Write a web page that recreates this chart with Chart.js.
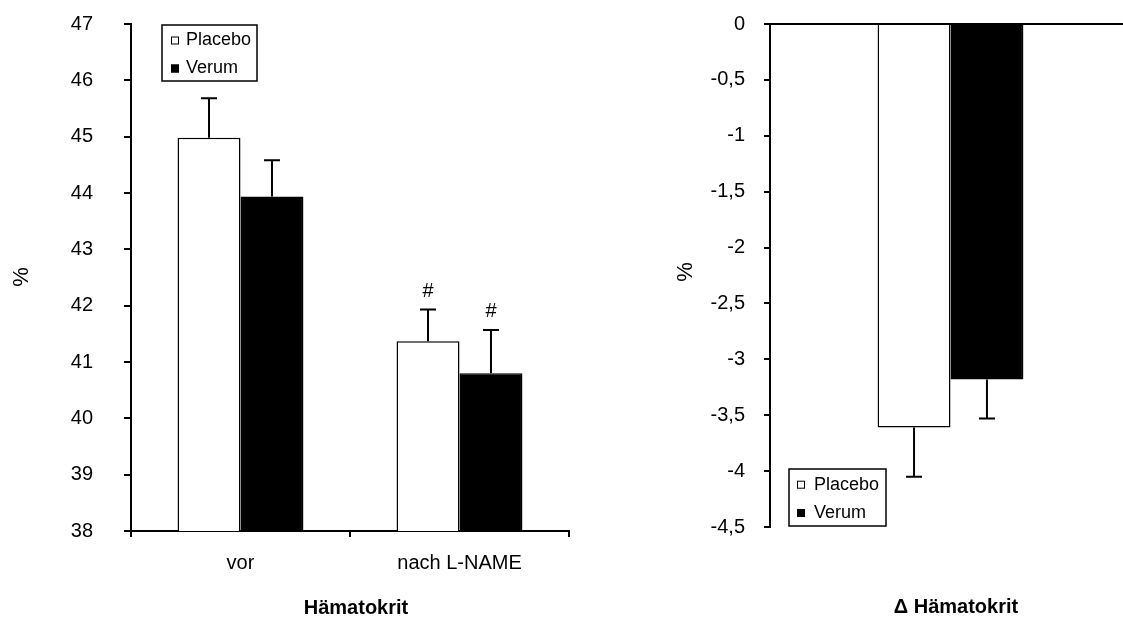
<!DOCTYPE html>
<html><head><meta charset="utf-8">
<script src="https://cdn.jsdelivr.net/npm/chart.js@4"></script>
<style>
html,body{margin:0;padding:0;background:#fff;overflow:hidden;width:1123px;height:618px;}
#c1{position:absolute;left:0;top:0;}
#c2{position:absolute;left:660px;top:0;}
</style></head><body>
<canvas id="c1" width="600" height="618"></canvas>
<canvas id="c2" width="480" height="618"></canvas>
<script>
// ---- data ----
const seriesNames = ['Placebo', 'Verum'];
const leftCategories = ['vor', 'nach L-NAME'];
const leftPlacebo = [44.98, 41.37];
const leftVerum = [43.94, 40.80];
const leftPlaceboErr = [0.70, 0.56];
const leftVerumErr = [0.64, 0.77];
const leftPlaceboMarks = ['', '#'];
const leftVerumMarks = ['', '#'];
const leftYTicks = [38, 39, 40, 41, 42, 43, 44, 45, 46, 47];

const rightCategories = [''];
const rightPlacebo = [-3.61];
const rightVerum = [-3.18];
const rightPlaceboErr = [0.44];
const rightVerumErr = [0.35];
const rightYTicks = [-4.5, -4, -3.5, -3, -2.5, -2, -1.5, -1, -0.5, 0];

const leftTitle = 'Hämatokrit';
const rightTitle = '\u0394 Hämatokrit';
const yTitle = '%';

// ---- styling ----
const FONT = '"Liberation Sans", Arial, sans-serif';
Chart.defaults.color = '#000';
Chart.defaults.font.family = FONT;
Chart.defaults.animation = false;

const fmt = v => String(v).replace('.', ',');

const errorBars = {
  id: 'errorBars',
  afterDatasetsDraw(chart) {
    const ctx = chart.ctx, y = chart.scales.y;
    chart.data.datasets.forEach((ds, di) => {
      const meta = chart.getDatasetMeta(di);
      meta.data.forEach((bar, i) => {
        const v = ds.data[i], e = ds.errors[i];
        const end = v >= 0 ? v + e : v - e;
        const pv = y.getPixelForValue(v), pe = y.getPixelForValue(end);
        ctx.save();
        ctx.strokeStyle = '#000'; ctx.lineWidth = 2;
        ctx.beginPath();
        ctx.moveTo(bar.x, pv); ctx.lineTo(bar.x, pe);
        ctx.moveTo(bar.x - 8, pe); ctx.lineTo(bar.x + 8, pe);
        ctx.stroke();
        if (ds.marks && ds.marks[i]) {
          ctx.font = '20px ' + FONT; ctx.fillStyle = '#000';
          ctx.textAlign = 'center'; ctx.textBaseline = 'middle';
          ctx.fillText(ds.marks[i], bar.x, pe - 18);
        }
        ctx.restore();
      });
    });
  }
};

const boxLegend = {
  id: 'boxLegend',
  afterDraw(chart, args, o) {
    const ca = chart.chartArea, ctx = chart.ctx;
    const x = ca.left + o.dx;
    const y = o.fromBottom ? ca.bottom - o.dy - o.h : ca.top + o.dy;
    ctx.save();
    ctx.fillStyle = '#fff'; ctx.fillRect(x, y, o.w, o.h);
    ctx.strokeStyle = '#000'; ctx.lineWidth = 1.5; ctx.strokeRect(x, y, o.w, o.h);
    chart.data.datasets.forEach((ds, i) => {
      const cy = y + o.row0 + i * o.rowH;
      ctx.fillStyle = ds.backgroundColor; ctx.fillRect(x + o.mx, cy - 4, 8, 8);
      ctx.strokeStyle = '#000'; ctx.lineWidth = 1; ctx.strokeRect(x + o.mx + 0.5, cy - 3.5, 7, 7);
      ctx.fillStyle = '#000'; ctx.font = '18px ' + FONT;
      ctx.textAlign = 'left'; ctx.textBaseline = 'middle';
      ctx.fillText(ds.label, x + o.tx, cy);
    });
    ctx.restore();
  }
};

const captions = {
  id: 'captions',
  afterDraw(chart, args, o) {
    const ctx = chart.ctx;
    (o.items || []).forEach(it => {
      ctx.save();
      ctx.font = it.font; ctx.fillStyle = '#000';
      ctx.textAlign = 'center'; ctx.textBaseline = 'middle';
      ctx.translate(it.x, it.y);
      if (it.rot) ctx.rotate(it.rot);
      ctx.fillText(it.text, 0, 0);
      ctx.restore();
    });
  }
};

function ds(label, data, errors, marks, fill, cat) {
  return { label, data, errors, marks, backgroundColor: fill, borderColor: '#000', borderWidth: 1.5,
           categoryPercentage: cat, barPercentage: 1 };
}

const noPad = s => { s.paddingTop = 0; s.paddingBottom = 0; };

// ---- left chart ----
new Chart(document.getElementById('c1'), {
  type: 'bar',
  data: {
    labels: leftCategories,
    datasets: [
      ds(seriesNames[0], leftPlacebo, leftPlaceboErr, leftPlaceboMarks, '#ffffff', 0.575),
      ds(seriesNames[1], leftVerum, leftVerumErr, leftVerumMarks, '#000000', 0.575)
    ]
  },
  options: {
    responsive: false, devicePixelRatio: 1,
    layout: { padding: { left: 0, top: 24, right: 31, bottom: 0 } },
    plugins: {
      legend: { display: false }, tooltip: { enabled: false },
      boxLegend: { dx: 31, dy: 1, w: 95, h: 56, row0: 15.5, rowH: 28, mx: 9, tx: 24 },
      captions: { items: [
        { text: yTitle, x: 22, y: 277, rot: -Math.PI / 2, font: '22px ' + FONT },
        { text: leftTitle, x: 356, y: 608, font: 'bold 20px ' + FONT }
      ] }
    },
    scales: {
      x: {
        afterFit: s => { s.height = 87; },
        grid: { offset: true, drawOnChartArea: false, tickLength: 6, color: '#000', lineWidth: 2 },
        border: { color: '#000', width: 2 },
        ticks: { font: { size: 20 }, padding: 14, color: '#000' }
      },
      y: {
        min: leftYTicks[0], max: leftYTicks[leftYTicks.length - 1],
        afterFit: s => { s.width = 131; noPad(s); },
        afterBuildTicks: s => { s.ticks = leftYTicks.map(v => ({ value: v })); },
        grid: { drawOnChartArea: false, tickLength: 7, color: '#000', lineWidth: 2 },
        border: { color: '#000', width: 2 },
        ticks: { font: { size: 20 }, padding: 31, color: '#000', callback: v => fmt(v) }
      }
    }
  },
  plugins: [errorBars, boxLegend, captions]
});

// ---- right chart ----
new Chart(document.getElementById('c2'), {
  type: 'bar',
  data: {
    labels: rightCategories,
    datasets: [
      ds(seriesNames[0], rightPlacebo, rightPlaceboErr, null, '#ffffff', 0.404),
      ds(seriesNames[1], rightVerum, rightVerumErr, null, '#000000', 0.404)
    ]
  },
  options: {
    responsive: false, devicePixelRatio: 1,
    layout: { padding: { left: 0, top: 0, right: 9, bottom: 91 } },
    plugins: {
      legend: { display: false }, tooltip: { enabled: false },
      boxLegend: { fromBottom: true, dx: 19, dy: 1, w: 97, h: 57, row0: 15.7, rowH: 28.3, mx: 8, tx: 25 },
      captions: { items: [
        { text: yTitle, x: 26, y: 272, rot: -Math.PI / 2, font: '22px ' + FONT },
        { text: rightTitle, x: 296, y: 607, font: 'bold 20px ' + FONT }
      ] }
    },
    scales: {
      x: {
        position: 'top',
        afterFit: s => { s.height = 24; },
        grid: { drawOnChartArea: false, drawTicks: false, tickLength: 0 },
        border: { color: '#000', width: 2 },
        ticks: { display: false }
      },
      y: {
        min: rightYTicks[0], max: rightYTicks[rightYTicks.length - 1],
        afterFit: s => { s.width = 110; noPad(s); },
        afterBuildTicks: s => { s.ticks = rightYTicks.map(v => ({ value: v })); },
        grid: { drawOnChartArea: false, tickLength: 6, color: '#000', lineWidth: 2 },
        border: { color: '#000', width: 2 },
        ticks: { font: { size: 20 }, padding: 19, color: '#000', callback: v => fmt(v) }
      }
    }
  },
  plugins: [errorBars, boxLegend, captions]
});
</script>
</body></html>
